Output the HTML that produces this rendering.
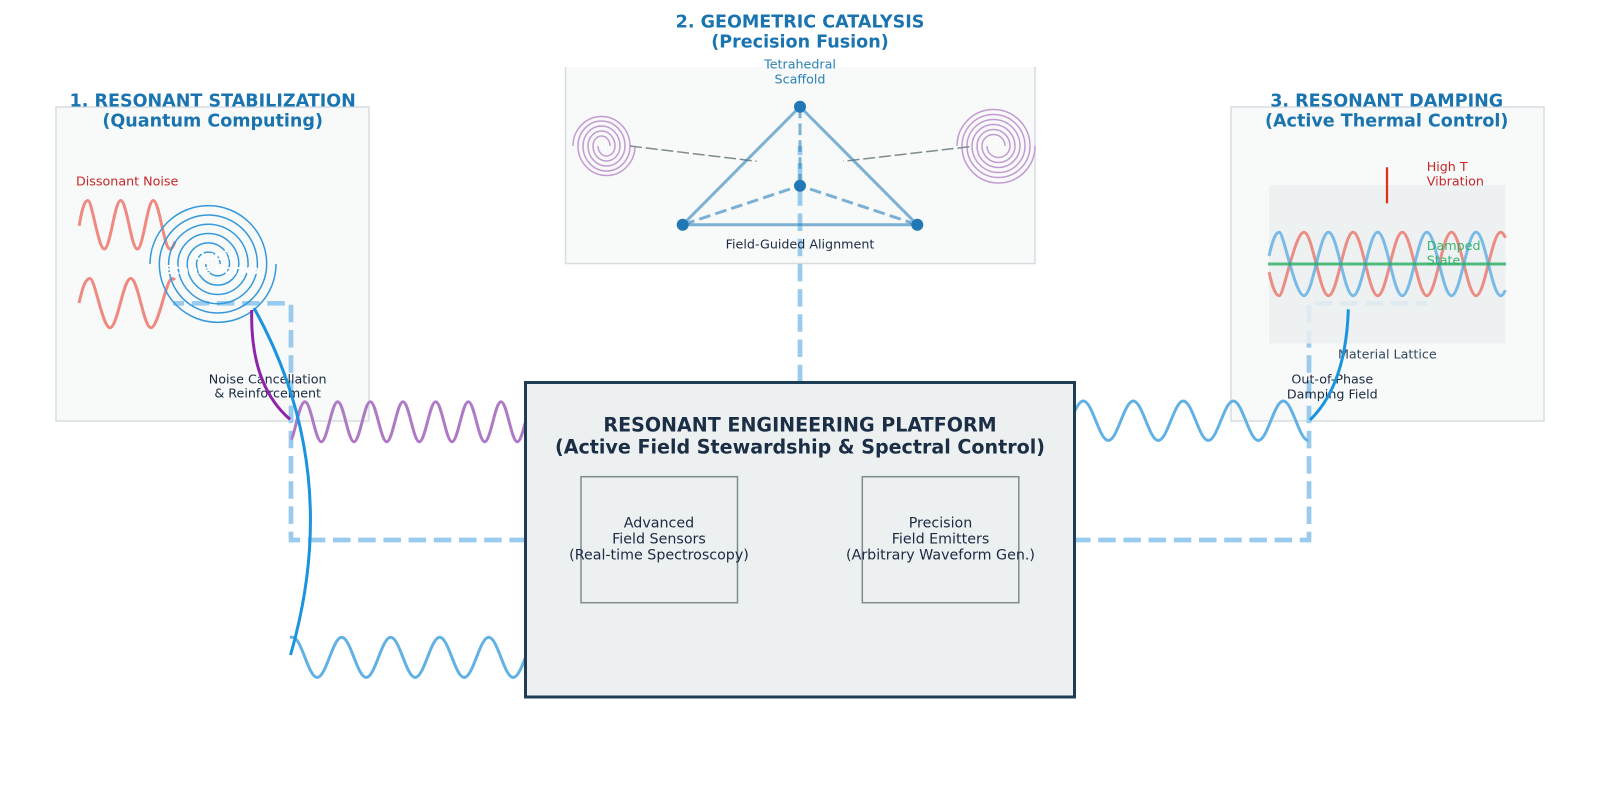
<!DOCTYPE html>
<html lang="en">
<head>
<meta charset="utf-8">
<title>Resonant Engineering Platform</title>
<style>
html,body{margin:0;padding:0;background:#fff;width:1600px;height:787px;overflow:hidden}
svg{display:block}
text{font-family:"DejaVu Sans","Liberation Sans",sans-serif;text-anchor:middle}
.t{font-size:17.55px;font-weight:700;fill:#1a74b0}
.s{font-size:12.7px;fill:#1b2a41}
.i{font-size:14.25px;fill:#1b2a41}
.p{font-size:19.08px;font-weight:700;fill:#1b2e45}
.l{text-anchor:start}
.dash{fill:none;stroke:#98cbee;stroke-width:4.7;stroke-dasharray:17.5 7.7}
</style>
</head>
<body>
<svg width="1600" height="787" viewBox="0 0 1600 787" xmlns="http://www.w3.org/2000/svg">

<!-- panels -->
<rect x="56" y="107" width="313" height="314" fill="#f8f9f9" stroke="#d7dce1" stroke-width="1.5"/>
<rect x="1231" y="107" width="313" height="314" fill="#f8f9f9" stroke="#d7dce1" stroke-width="1.5"/>
<rect x="565" y="67" width="470" height="196.5" fill="#f8f9f9"/>
<path d="M565.5,67V263.5H1035V67" fill="none" stroke="#d7dce1" stroke-width="1.5"/>

<!-- dashed control connectors -->
<path class="dash" d="M526.9,540H291V303.3H173"/>
<path class="dash" d="M1073,540H1309V303.3H1427"/>
<path class="dash" d="M800,382.2V146"/>

<!-- panel 1 contents -->
<text class="s l" x="76" y="185.7" style="fill:#c62828">Dissonant Noise</text>
<g fill="none" stroke="#ef8a80" stroke-width="3">
<path d="M79.2,225.7C81.5,212 84,200.5 88,200.5S98.3,249 104.3,249S114.7,200.5 120.7,200.5S131.3,249 137.3,249S147.3,200.5 153.3,200.5S164,249 170,249C172,249 173.5,246 175,241.7"/>
<path d="M79,303C82,290 85,278.5 90,278.5S102.5,327.7 110,327.7S123.2,278.5 130.7,278.5S143.5,327.7 151,327.7C158.5,327.7 166,279 172,278.5C173,278.5 174,279 175,280"/>
</g>
<g fill="none" stroke="#3498db" stroke-width="1.5">
<path d="M150,264A58.35,58.35 0 0 1 266.7,264A49.05,49.05 0 0 1 168.6,264A39.75,39.75 0 0 1 248.1,264A30.45,30.45 0 0 1 187.2,264A21.15,21.15 0 0 1 229.5,264A11.85,11.85 0 0 1 205.8,264"/>
<path d="M276,264A58.35,58.35 0 0 1 159.3,264A49.05,49.05 0 0 1 257.4,264A39.75,39.75 0 0 1 177.9,264A30.45,30.45 0 0 1 238.8,264A21.15,21.15 0 0 1 196.5,264A11.85,11.85 0 0 1 220.2,264"/>
</g>
<text x="214" y="260" font-size="12.7" font-weight="700" fill="#fff">Qubit</text>
<text x="213.5" y="274" font-size="12.7" font-weight="700" fill="#fff">Stable Vortex</text>
<text class="s" x="267.7" y="383.3">Noise Cancellation</text>
<text class="s" x="267.7" y="397.7">&amp; Reinforcement</text>

<!-- panel 2 contents -->
<g fill="none" stroke="#c39bd3" stroke-width="1.5">
<path d="M573,146A28.5,29.5 0 0 1 630,146A23.5,25 0 0 1 583,146A18.5,20 0 0 1 620,146A13.5,15 0 0 1 593,146A8.5,10 0 0 1 610,146"/>
<path d="M635,146A28.5,29.5 0 0 1 578,146A23.5,25 0 0 1 625,146A18.5,20 0 0 1 588,146A13.5,15 0 0 1 615,146A8.5,10 0 0 1 598,146"/>
<path d="M957,146A36.5,36.5 0 0 1 1030,146A31.5,31.5 0 0 1 967,146A26.5,26.5 0 0 1 1020,146A21.5,21.5 0 0 1 977,146A16.5,16.5 0 0 1 1010,146A11.5,11.5 0 0 1 987,146"/>
<path d="M1035,146A36.5,37 0 0 1 962,146A31.5,31.5 0 0 1 1025,146A26.5,26.5 0 0 1 972,146A21.5,21.5 0 0 1 1015,146A16.5,16.5 0 0 1 982,146A11.5,11.5 0 0 1 1005,146"/>
</g>
<text x="604" y="149" font-size="9" fill="#fff">D</text>
<text x="995" y="147" font-size="9" fill="#fff">T</text>
<g fill="none" stroke="#7f8c8d" stroke-width="1.5" stroke-dasharray="12 3.8">
<path d="M630,146L756.7,161.3"/>
<path d="M969.3,146.7L843.3,161.3"/>
</g>
<g fill="none" stroke="#2980b9" stroke-opacity="0.6" stroke-width="3">
<path d="M800,106.7L682.7,224.7H917.3Z"/>
<path stroke-dasharray="11.6 5.2" stroke-dashoffset="6.3" d="M800,185.7L682.7,224.7M800,185.7L917.3,224.7"/>
<path stroke-dasharray="11.6 5.2" d="M800,106.7V185.7"/>
</g>
<g fill="#2178b5">
<circle cx="800" cy="106.7" r="6"/>
<circle cx="682.7" cy="224.7" r="6"/>
<circle cx="917.3" cy="224.7" r="6"/>
<circle cx="800" cy="185.7" r="6"/>
</g>
<text class="s" x="800" y="68.3" style="fill:#2980b9">Tetrahedral</text>
<text class="s" x="800" y="83.3" style="fill:#2980b9">Scaffold</text>
<text class="s" x="800" y="248.3">Field-Guided Alignment</text>

<!-- panel 3 contents -->
<rect x="1269" y="185" width="236.5" height="158.5" fill="#ecf0f1" fill-opacity="0.85"/>
<path d="M1387,167.3V203.3" stroke="#e0301e" stroke-width="2.3" fill="none"/>
<text class="s l" x="1426.7" y="171" style="fill:#c62828">High T</text>
<text class="s l" x="1426.7" y="185.7" style="fill:#c62828">Vibration</text>
<g fill="none" stroke-width="3">
<path stroke="#e74c3c" stroke-opacity="0.6" d="M1269,272.1C1272,285 1275,295.7 1279.3,295.7S1295,232.3 1303.9,232.3S1319.6,295.7 1328.5,295.7S1344.2,232.3 1353.1,232.3S1368.8,295.7 1377.7,295.7S1393.4,232.3 1402.3,232.3S1418,295.7 1426.9,295.7S1442.6,232.3 1451.5,232.3S1467.2,295.7 1476.1,295.7S1491.8,232.3 1500.7,232.3C1502.5,232.3 1504,235 1505.5,237.8"/>
<path stroke="#5dade2" stroke-opacity="0.8" d="M1269,255.9C1272,243 1275,232.3 1279.3,232.3S1295,295.7 1303.9,295.7S1319.6,232.3 1328.5,232.3S1344.2,295.7 1353.1,295.7S1368.8,232.3 1377.7,232.3S1393.4,295.7 1402.3,295.7S1418,232.3 1426.9,232.3S1442.6,295.7 1451.5,295.7S1467.2,232.3 1476.1,232.3S1491.8,295.7 1500.7,295.7C1502.5,295.7 1504,293 1505.5,290.2"/>
</g>
<path d="M1268,264H1506" stroke="#27ae60" stroke-opacity="0.8" stroke-width="3" fill="none"/>
<text class="s l" x="1426.7" y="250" style="fill:#27ae60;fill-opacity:.9">Damped</text>
<text class="s l" x="1426.7" y="264.3" style="fill:#27ae60;fill-opacity:.9">State</text>
<text class="s" x="1387.3" y="358.7" style="fill:#34495e">Material Lattice</text>
<text class="s" x="1332.3" y="383.3">Out-of-Phase</text>
<text class="s" x="1332.3" y="398.3">Damping Field</text>

<!-- waves -->
<path fill="none" stroke="#af7ac5" stroke-width="3" d="M291,439.5C294.5,437 299.05,401.7 305,401.7S315.35,441.7 321.3,441.7S331.75,401.7 337.7,401.7S348.05,441.7 354,441.7S364.35,401.7 370.3,401.7S380.75,441.7 386.7,441.7S397.05,401.7 403,401.7S413.35,441.7 419.3,441.7S429.75,401.7 435.7,401.7S446.05,441.7 452,441.7S462.35,401.7 468.3,401.7S478.75,441.7 484.7,441.7S495.05,401.7 501,401.7S511.35,441.7 517.3,441.7S527.75,401.7 533.7,401.7"/>
<path fill="none" stroke="#62b1e5" stroke-width="3" d="M290,637.3H292.7C301.6,637.3 308.3,677.5 317.2,677.5S332.8,637.3 341.7,637.3S357.3,677.5 366.2,677.5S381.8,637.3 390.7,637.3S406.3,677.5 415.2,677.5S430.8,637.3 439.7,637.3S455.3,677.5 464.2,677.5S479.8,637.3 488.7,637.3S504.3,677.5 513.2,677.5S528.8,637.3 537.7,637.3"/>
<path fill="none" stroke="#62b1e5" stroke-width="3" d="M1058.3,440.5C1067.4,440.5 1074.2,401 1083.3,401S1099.2,440.5 1108.3,440.5S1124.2,401 1133.3,401S1149.2,440.5 1158.3,440.5S1174.2,401 1183.3,401S1199.2,440.5 1208.3,440.5S1224.2,401 1233.3,401S1249.2,440.5 1258.3,440.5S1274.2,401 1283.3,401S1299.2,440.5 1308.3,440.5"/>

<!-- field curves -->
<path d="M251.7,310Q250,385 290,419.3" fill="none" stroke="#8e24aa" stroke-width="3"/>
<path d="M254,308Q344,470 290.5,655" fill="none" stroke="#1a94de" stroke-width="3"/>
<path d="M1348.3,309.3Q1346,385 1310,420" fill="none" stroke="#1a94de" stroke-width="3"/>

<!-- platform -->
<rect x="525.5" y="382.5" width="549" height="314.5" fill="#ecf0f1" stroke="#1f3d57" stroke-width="3"/>
<text class="p" x="800" y="431.7">RESONANT ENGINEERING PLATFORM</text>
<text class="p" x="800" y="453.3">(Active Field Stewardship &amp; Spectral Control)</text>
<rect x="581" y="476.7" width="156.5" height="126" fill="none" stroke="#7f8c8d" stroke-width="1.5"/>
<rect x="862.3" y="476.7" width="156.5" height="126" fill="none" stroke="#7f8c8d" stroke-width="1.5"/>
<text class="i" x="659" y="527.7">Advanced</text>
<text class="i" x="659" y="543.3">Field Sensors</text>
<text class="i" x="659" y="559.3">(Real-time Spectroscopy)</text>
<text class="i" x="940.5" y="527.7">Precision</text>
<text class="i" x="940.5" y="543.3">Field Emitters</text>
<text class="i" x="940.5" y="559.3">(Arbitrary Waveform Gen.)</text>

<!-- titles -->
<text class="t" x="212.7" y="106.7">1. RESONANT STABILIZATION</text>
<text class="t" x="212.7" y="126.7">(Quantum Computing)</text>
<text class="t" x="800" y="27.7">2. GEOMETRIC CATALYSIS</text>
<text class="t" x="800" y="47.7">(Precision Fusion)</text>
<text class="t" x="1386.7" y="106.7">3. RESONANT DAMPING</text>
<text class="t" x="1386.7" y="126.7">(Active Thermal Control)</text>
</svg>
</body>
</html>
